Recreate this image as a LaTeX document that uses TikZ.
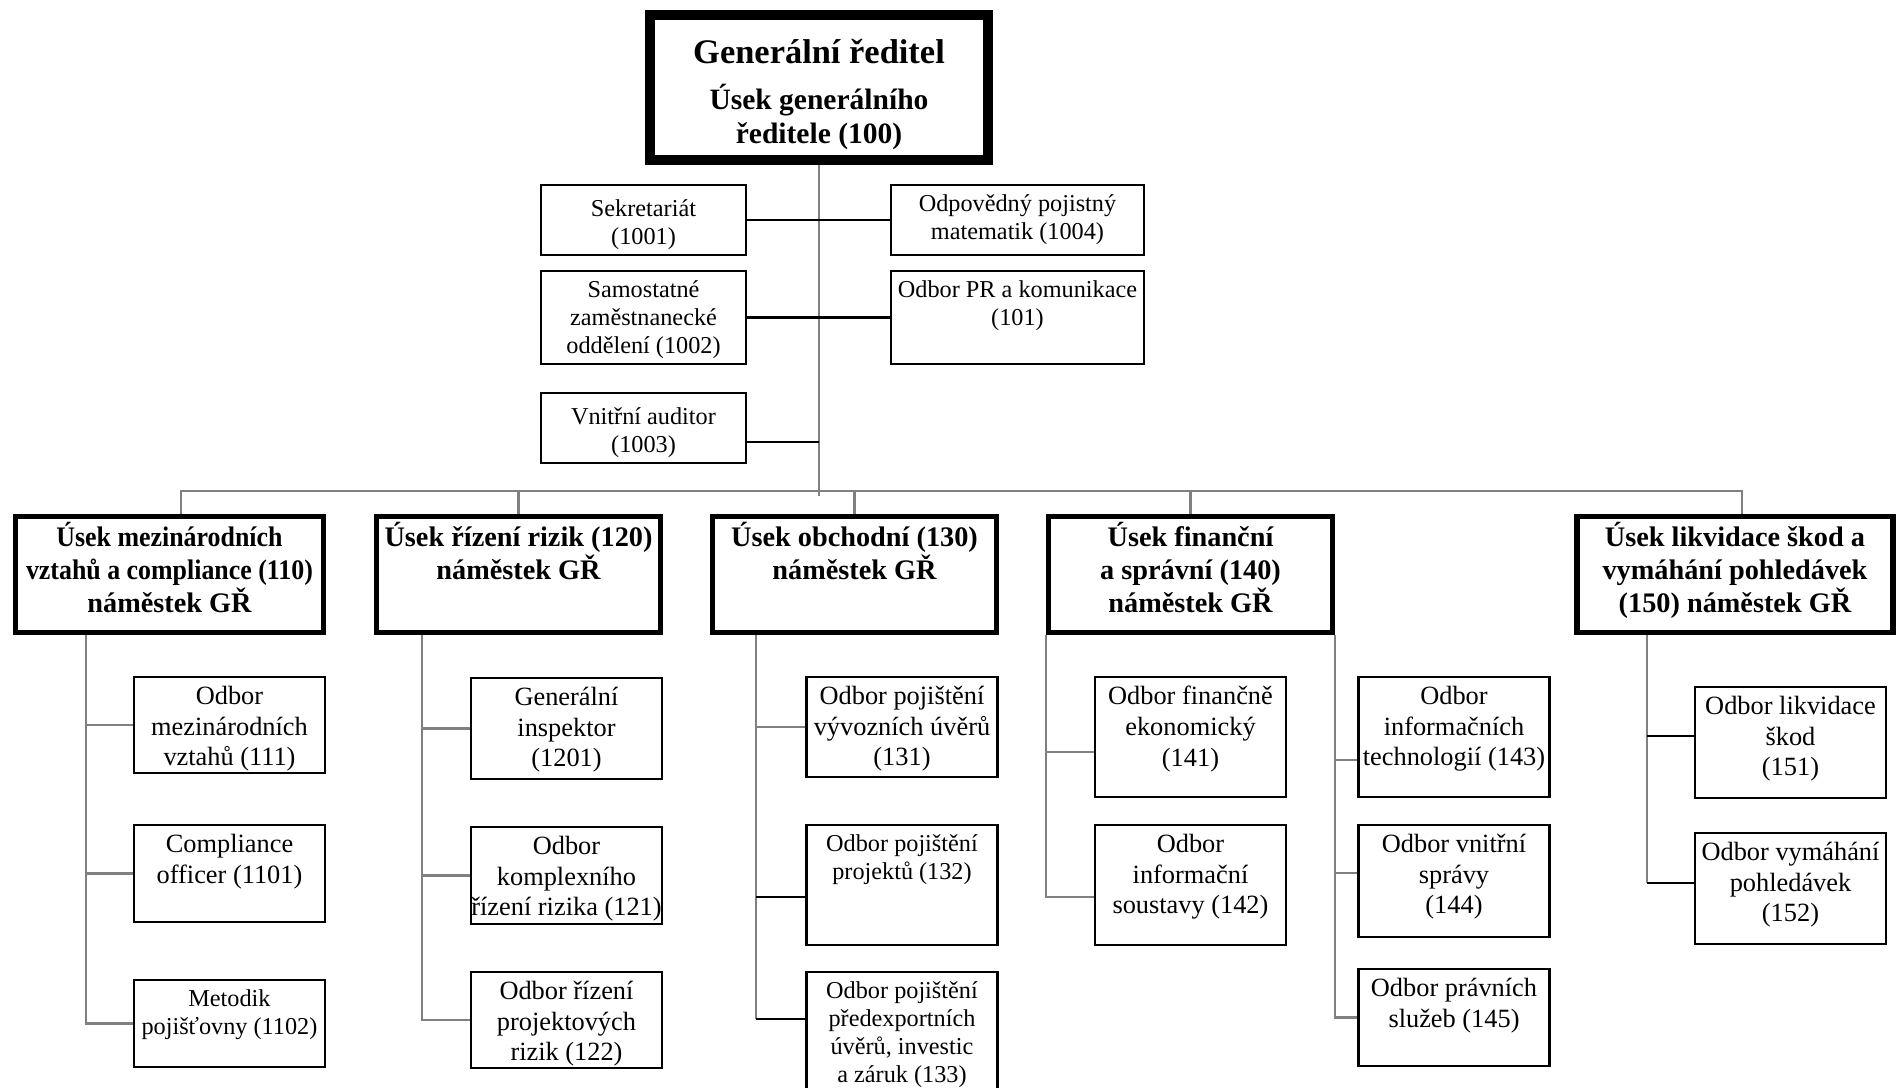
\documentclass[tikz,border=0pt]{standalone}
\usepackage{fontspec}
\setmainfont{Liberation Serif}
\usepackage{graphicx}

\begin{document}
\begin{tikzpicture}[
      obox/.style={draw, line width=0.65pt, inner sep=0pt},
      odbor/.style={obox, minimum width=1.91cm},
      usek/.style={draw, line width=1.5pt, inner sep=0pt, minimum height=1.16cm},
      lbl/.style={anchor=north, inner sep=0pt, align=center, draw=none},
      txt/.style={label={[lbl, yshift=-2.8pt, font=\fontsize{7.5}{8.7}\selectfont]north:#1}},
      txts/.style={label={[lbl, yshift=-2.9pt, font=\fontsize{6.9}{8}\selectfont]north:#1}},
      txtl/.style={label={[lbl, yshift=-4.2pt, font=\fontsize{6.9}{8}\selectfont]north:#1}},
      txtb/.style={label={[lbl, yshift=-2.2pt, font=\bfseries\fontsize{8.05}{9.35}\selectfont]north:#1}},
      conn/.style={gray, line width=0.6pt},
      connb/.style={black, line width=0.6pt}]
      \useasboundingbox[fill=white] (0,0) rectangle (18.96,-10.88);
      \node[draw, line width=2.8pt, inner sep=0pt, minimum width=3.38cm, minimum height=1.45cm,
            label={[lbl, yshift=-8.1pt, font=\bfseries\fontsize{8.4}{9.6}\selectfont]north:{\fontsize{9.8}{11}\selectfont Generální ředitel}\\[3.5pt]Úsek generálního\\ředitele (100)}] (gr) at (8.19,-0.875) {};
      \node[obox, minimum width=2.05cm, minimum height=0.70cm, txtl={Sekretariát\\(1001)}] (sek) at (6.435,-2.20) {};
      \node[obox, minimum width=2.53cm, minimum height=0.70cm, txts={Odpovědný pojistný\\matematik (1004)}] (odp) at (10.175,-2.20) {};
      \node[obox, minimum width=2.05cm, minimum height=0.93cm, txts={Samostatné\\zaměstnanecké\\oddělení (1002)}] (sam) at (6.435,-3.175) {};
      \node[obox, minimum width=2.53cm, minimum height=0.93cm, txts={Odbor PR a komunikace\\(101)}] (pr) at (10.175,-3.175) {};
      \node[obox, minimum width=2.05cm, minimum height=0.70cm, txtl={Vnitřní auditor\\(1003)}] (vni) at (6.435,-4.28) {};
      \node[usek, minimum width=3.08cm, txtb={\scalebox{0.915}[1]{Úsek mezinárodních}\\\scalebox{0.915}[1]{vztahů a compliance (110)}\\náměstek GŘ}] (l110) at (1.695,-5.745) {};
      \node[usek, minimum width=2.84cm, txtb={Úsek řízení rizik (120)\\náměstek GŘ}] (l120) at (5.185,-5.745) {};
      \node[usek, minimum width=2.84cm, txtb={Úsek obchodní (130)\\náměstek GŘ}] (l130) at (8.545,-5.745) {};
      \node[usek, minimum width=2.84cm, txtb={Úsek finanční\\a správní (140)\\náměstek GŘ}] (l140) at (11.905,-5.745) {};
      \node[usek, minimum width=3.16cm, txtb={Úsek likvidace škod a\\vymáhání pohledávek\\(150) náměstek GŘ}] (l150) at (17.35,-5.745) {};
      \node[odbor, minimum height=0.96cm, txt={Odbor\\mezinárodních\\vztahů (111)}] (o111) at (2.295,-7.25) {};
      \node[odbor, minimum height=0.97cm, txt={Compliance\\officer (1101)}] (o1101) at (2.295,-8.735) {};
      \node[odbor, minimum height=0.87cm, txts={Metodik\\pojišťovny (1102)}] (o1102) at (2.295,-10.235) {};
      \node[odbor, minimum height=1.01cm, txt={Generální\\inspektor\\(1201)}] (o1201) at (5.665,-7.285) {};
      \node[odbor, minimum height=0.97cm, txt={Odbor\\komplexního\\řízení rizika (121)}] (o121) at (5.665,-8.755) {};
      \node[odbor, minimum height=0.96cm, txt={Odbor řízení\\projektových\\rizik (122)}] (o122) at (5.665,-10.20) {};
      \node[odbor, minimum height=1.00cm, txt={Odbor pojištění\\vývozních úvěrů\\(131)}] (o131) at (9.02,-7.27) {};
      \node[odbor, minimum height=1.20cm, txts={Odbor pojištění\\projektů (132)}] (o132) at (9.02,-8.85) {};
      \node[odbor, minimum height=1.23cm, txts={Odbor pojištění\\předexportních\\úvěrů, investic\\a záruk (133)}] (o133) at (9.02,-10.335) {};
      \node[odbor, minimum height=1.20cm, txt={Odbor finančně\\ekonomický\\(141)}] (o141) at (11.905,-7.37) {};
      \node[odbor, minimum height=1.20cm, txt={Odbor\\informační\\soustavy (142)}] (o142) at (11.905,-8.85) {};
      \node[odbor, minimum height=1.20cm, txt={Odbor\\informačních\\technologií (143)}] (o143) at (14.54,-7.37) {};
      \node[odbor, minimum height=1.12cm, txt={Odbor vnitřní\\správy\\(144)}] (o144) at (14.54,-8.81) {};
      \node[odbor, minimum height=0.97cm, txt={Odbor právních\\služeb (145)}] (o145) at (14.54,-10.175) {};
      \node[odbor, minimum height=1.11cm, txt={Odbor likvidace\\škod\\(151)}] (o151) at (17.905,-7.425) {};
      \node[odbor, minimum height=1.11cm, txt={Odbor vymáhání\\pohledávek\\(152)}] (o152) at (17.905,-8.885) {};
      \coordinate (bus) at (8.19,-4.91);
      \draw[conn] (gr.south) -- ([yshift=-0.05cm]bus);
      \draw[conn] ([xshift=0.115cm]l110.north) |- (bus) -| ([xshift=0.07cm]l150.north);
      \foreach \n in {l120,l130,l140}
        \draw[conn] (\n.north) -- (\n.north |- bus);
      \draw[connb] (sek.east) -- (odp.west);
      \draw[connb] (sam.east) -- (pr.west);
      \draw[connb] ([yshift=-0.14cm]vni.east) -- ([yshift=-0.14cm]vni.east -| gr.south);
      \coordinate (v110) at ([xshift=-0.835cm]l110.south);
      \draw[conn] (v110) |- (o1102.west);
      \foreach \o in {o111,o1101}
        \draw[conn] (\o.west) -- (\o.west -| v110);
      \coordinate (v120) at ([xshift=-0.965cm]l120.south);
      \draw[conn] (v120) |- (o122.west);
      \foreach \o in {o1201,o121}
        \draw[conn] (\o.west) -- (\o.west -| v120);
      \coordinate (v130) at ([xshift=-0.985cm]l130.south);
      \draw[conn] (v130) -- ([yshift=0.145cm]o133.west -| v130);
      \draw[conn] (o131.west) -- (o131.west -| v130);
      \draw[connb] ([yshift=-0.12cm]o132.west) -- ([yshift=-0.12cm]o132.west -| v130);
      \draw[connb] ([yshift=0.145cm]o133.west) -- ([yshift=0.145cm]o133.west -| v130);
      \draw[conn] (l140.south west) |- ([yshift=-0.12cm]o142.west);
      \draw[conn] ([yshift=-0.15cm]o141.west) -- ([yshift=-0.15cm]o141.west -| l140.south west);
      \draw[conn] (l140.south east) |- (o145.west);
      \draw[conn] ([yshift=-0.23cm]o143.west) -- ([yshift=-0.23cm]o143.west -| l140.south east);
      \draw[conn] ([yshift=0.08cm]o144.west) -- ([yshift=0.08cm]o144.west -| l140.south east);
      \coordinate (v150) at ([xshift=-0.88cm]l150.south);
      \draw[conn] (v150) -- ([yshift=0.055cm]o152.west -| v150);
      \draw[connb] ([yshift=0.065cm]o151.west) -- ([yshift=0.065cm]o151.west -| v150);
      \draw[connb] ([yshift=0.055cm]o152.west) -- ([yshift=0.055cm]o152.west -| v150);
\end{tikzpicture}
\end{document}
